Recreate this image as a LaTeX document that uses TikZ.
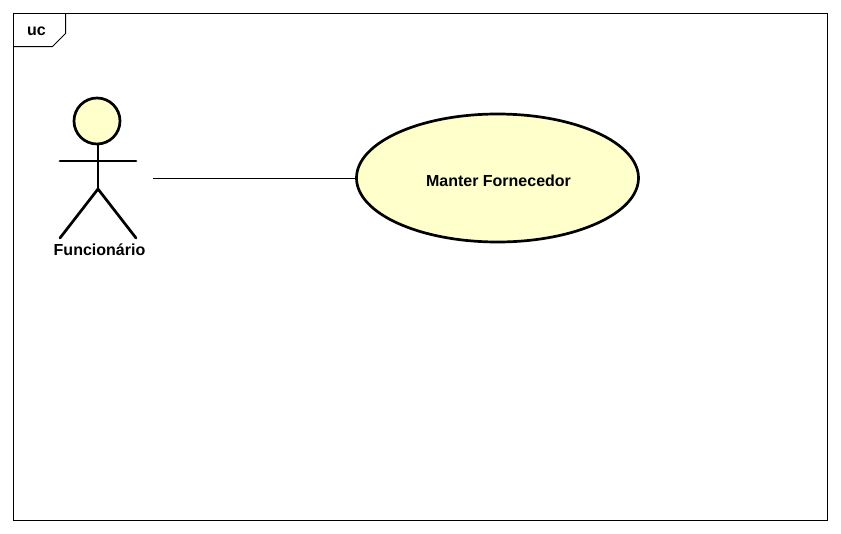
\documentclass[tikz,border=0pt]{standalone}
\usepackage{fontspec}
\setmainfont{Liberation Sans}
\usetikzlibrary{shapes.geometric}
\definecolor{ucfill}{HTML}{FFFFCC}
\tikzset{
    thin line/.style={line width=1pt},
    limb/.style={line width=2.7pt, line cap=round},
    usecase/.style={draw, ellipse, line width=2.7pt, fill=ucfill, inner sep=0pt,
        minimum width=282pt, minimum height=128pt},
    label/.style={inner sep=0pt, font=\fontsize{16}{18}\selectfont\bfseries},
}
\begin{document}
\begin{tikzpicture}[x=1pt, y=-1pt]
    \useasboundingbox (0, 0) rectangle (841, 533);
    \fill[white] (0, 0) rectangle (841, 533);
    % frame and its tab
    \draw[thin line] (13.5, 13.5) rectangle (827.5, 520.5);
    \draw[thin line] (13.5, 46.5) -- (52.5, 46.5) -- (65.5, 33.5) -- (65.5, 13.5);
    \node[label] (tab) at (36.5, 31) {uc};
    % actor
    \node[draw, circle, limb, fill=ucfill, minimum size=46pt, inner sep=0pt] (head) at (97, 121) {};
    \coordinate (hip) at (98, 189);
    \draw[limb] (head.south) ++(1, 0) -- (hip);
    \draw[limb] (60, 161) -- (136, 161);
    \foreach \i in {60, 136} {
        \draw[limb] (hip) -- (\i, 238);
    }
    \node[label] (actor) at (99.5, 250) {Funcionário};
    % use case
    \node[usecase] (manter) at (497.5, 178) {};
    \node[label] (mantertext) at (498.5, 180.5) {Manter Fornecedor};
    \coordinate (free) at (153, 178.5);
    \draw[thin line] (free) -- (manter.west |- free);
\end{tikzpicture}
\end{document}
